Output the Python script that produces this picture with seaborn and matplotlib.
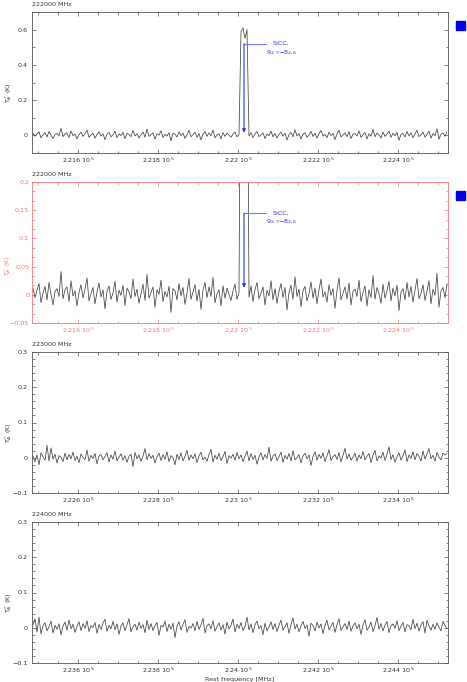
import numpy as np
import matplotlib
matplotlib.use("Agg")
import matplotlib.pyplot as plt
import seaborn as sns
from matplotlib.ticker import MultipleLocator, AutoMinorLocator, FuncFormatter
from matplotlib.patches import Rectangle

sns.set_style("ticks")
plt.rcParams['font.family'] = ['DejaVu Sans']

# ---------------- data ----------------
CHAN_WIDTH = 5.0  # MHz
panel_titles = ["222000 MHz", "222000 MHz", "223000 MHz", "224000 MHz"]
panel_start = [221485.0, 221485.0, 222485.0, 223485.0]
panel_end = [222525.0, 222525.0, 223525.0, 224525.0]
panel_ylim = [(-0.1, 0.7), (-0.05, 0.2), (-0.1, 0.3), (-0.1, 0.3)]
panel_ymajor = [0.2, 0.05, 0.1, 0.1]
panel_yminor = [2, 3, 5, 5]

# spectrum at 222000 MHz (mK)
spec_222 = [
    12, -5, 8, 20, -14, 3, 15, -9, 22, 1, -18, 6, 11, -3, 41, -7, 9, 14, -12, 25,
    -2, 7, -20, 4, 18, -6, 10, 30, -11, 2, 13, -16, 5, 21, -4, 9, -25, 6, 16, -8,
    3, 24, -13, 8, -1, 17, -19, 12, 5, -7, 28, -3, 10, -15, 2, 19, -10, 36, -6, 4,
    14, -22, 9, 1, 26, -12, 6, -4, 15, -31, 11, 7, -9, 20, -2, 13, -17, 3, 29, -8,
    5, 18, -11, 10, -26, 8, 22, -5, 14, -3, 31, -14, 2, 9, -20, 16, -6, 12, 1, -10,
    7, 19, -8, 4,
    590, 610, 550, 600,
    -4, 16, -12, 9, 22, -7, 3, 14, -18, 8, -2, 25, -9, 11, -15, 6, 20, -5, 13, -27,
    4, 17, -8, 32, -3, 10, -21, 7, 15, -11, 2, 23, -6, 12, -16, 9, 28, -4, 5, -13,
    18, -1, 11, -24, 8, 30, -9, 3, 14, -7, 21, -18, 6, 10, -3, 26, -12, 4, 16, -20,
    9, -5, 34, -8, 13, 2, -15, 19, -6, 7, 24, -11, 12, -2, 17, -28, 5, 11, -9, 22,
    -4, 15, -13, 8, 29, -7, 3, 18, -10, 6, 25, -16, 10, -1, 38, -22, 7, 13, -5, 20,
]
# spectrum at 223000 MHz (mK)
spec_223 = [
    5, -12, 8, -20, 14, 3, -7, 35, -9, 28, -4, 10, -15, 6, 2, -11, 13, -6, 9, -3,
    16, -8, 4, -14, 11, 1, -5, 22, -10, 7, -2, 12, -17, 5, 9, -6, 3, 14, -12, 8,
    -4, 19, -9, 2, 11, -7, 6, -13, 4, 10, -25, 15, -3, 8, -10, 5, 26, -6, 12, -2,
    7, -15, 3, 13, -8, 9, -4, 17, -11, 6, 1, -20, 10, -5, 14, -9, 4, 21, -7, 8,
    -3, 11, -14, 5, 16, -6, 2, -10, 9, 24, -12, 7, -4, 13, -8, 3, 18, -16, 6, -1,
    10, -7, 15, -3, 8, -11, 4, 19, -9, 12, -5, 7, -18, 2, 14, -6, 9, -2, 30, -10,
    5, 11, -8, 3, 16, -13, 7, -4, 12, -9, 20, -6, 1, 9, -15, 6, 13, -3, 8, -22,
    4, 17, -7, 10, -2, 14, -11, 5, 23, -8, 3, 9, -5, 15, -12, 6, 27, -4, 11, -7,
    2, 13, -10, 8, -3, 18, -6, 4, 12, -14, 7, 21, -9, 5, -1, 16, -8, 10, 31, -5,
    9, -13, 3, 14, -7, 6, 22, -11, 8, -2, 17, -6, 12, 4, -9, 19, -4, 11, 26, -3,
    7, -10, 15, 2, -6, 13, 8, 12,
]
# spectrum at 224000 MHz (mK)
spec_224 = [
    8, 25, -12, 30, -18, 6, 14, -9, 3, 19, -15, 7, -4, 11, -20, 5, 16, -7, 22, -3,
    10, -13, 4, 17, -8, 12, -2, 20, -11, 6, 1, 15, -16, 9, -5, 13, 24, -10, 7, -3,
    18, -6, 11, -19, 4, 14, -9, 8, 26, -12, 3, 10, -7, 16, -2, 9, -14, 21, -5, 12,
    -8, 6, 15, -22, 7, 2, 19, -11, 10, -4, 13, -28, 5, 17, -6, 9, 23, -13, 4, -1,
    12, -9, 18, -5, 8, 27, -15, 6, 11, -3, 20, -10, 3, 14, -7, 9, -18, 16, -4, 7,
    25, -12, 10, -2, 15, -8, 4, 30, -6, 11, -14, 8, 19, -3, 6, -20, 13, -9, 2, 17,
    -5, 12, -11, 7, 22, -7, 3, 14, -16, 9, 28, -4, 10, -12, 5, 18, -2, 8, -24, 13,
    6, -9, 16, -1, 11, -17, 7, 21, -6, 4, 15, -13, 9, 26, -8, 3, 12, -5, 19, -10,
    5, 14, -3, 10, -19, 8, 23, -7, 2, 16, -11, 6, 29, -4, 12, -9, 7, 18, -14, 5,
    11, -2, 20, -8, 4, 15, -12, 9, 6, -6, 24, -3, 13, -10, 8, 17, -15, 21, 5, -7,
    10, -4, 14, 2, -9, 18, 6, -3,
]
panel_spec = [spec_222, spec_222, spec_223, spec_224]

# line identification
line_freq = 222015.0
line_name = "SiCC,"
line_qn = "9$_{2,7}$\u22128$_{2,6}$"
line_top = [0.52, 0.145]   # top of the marker in panels 1 and 2
line_tip = [0.015, 0.0125]

# ---------------- figure ----------------
W, H = 467, 682
fig = plt.figure(figsize=(W / 100, H / 100), dpi=100)

panel_px = [(12, 153), (182, 323), (352, 493), (522, 663)]
label_right_px = [14, 13, 14, 14]
left_px, right_px = 32, 448
FS = 4.6
red = "#f07878"

def xfmt(v, pos):
    return f"{v/1e5:g} 10$^5$"

def yfmt(v, pos):
    s = f"{v:g}"
    if abs(v) < 1e-9:
        s = "0"
    return s.replace("-", "\u2212")

for i in range(4):
    top, bot = panel_px[i]
    ax = fig.add_axes([left_px / W, 1 - bot / H, (right_px - left_px) / W, (bot - top) / H])
    spec = np.array(panel_spec[i], dtype=float) / 1000.0
    freq = panel_start[i] + CHAN_WIDTH * (np.arange(len(spec)) + 0.5)
    sns.lineplot(x=freq, y=spec, ax=ax, color="#444444", lw=0.55, estimator=None)
    ax.set_xlim(panel_start[i], panel_end[i])
    ax.set_ylim(*panel_ylim[i])
    ax.xaxis.set_major_locator(MultipleLocator(200))
    ax.xaxis.set_minor_locator(MultipleLocator(50))
    ax.yaxis.set_major_locator(MultipleLocator(panel_ymajor[i]))
    ax.yaxis.set_minor_locator(AutoMinorLocator(panel_yminor[i]))
    ax.xaxis.set_major_formatter(FuncFormatter(xfmt))
    ax.yaxis.set_major_formatter(FuncFormatter(yfmt))
    col = red if i == 1 else "#555555"
    lcol = red if i == 1 else "#333333"
    ax.tick_params(which="both", direction="in", top=True, right=True,
                   color=col, labelcolor=lcol, labelsize=FS, width=0.5, pad=3)
    ax.tick_params(axis="x", which="both", pad=2)
    if i == 1:
        ax.tick_params(axis="y", which="both", pad=2)
    ax.tick_params(which="major", length=3)
    ax.tick_params(which="minor", length=1.8)
    for sp in ax.spines.values():
        sp.set_color(col)
        sp.set_linewidth(0.6)
        sp.set_visible(True)
    ax.set_ylabel("T$_A^*$ (K)", fontsize=FS, color=lcol)
    ax.yaxis.set_label_coords((label_right_px[i] - left_px) / (right_px - left_px),
                              0.41 if i == 1 else 0.43)
    ax.set_xlabel("")
    fig.text(left_px / W, 1 - (top - 8) / H, panel_titles[i], fontsize=FS,
             color="#333333", ha="left", va="center")

    if i < 2:
        yt, ytip = line_top[i], line_tip[i]
        ax.annotate("", xy=(line_freq, ytip), xytext=(line_freq, yt),
                    arrowprops=dict(arrowstyle="-|>", color="#2233ff", lw=0.8,
                                    mutation_scale=5, shrinkA=0, shrinkB=0))
        ax.plot([line_freq, line_freq + 55], [yt, yt], color="#7777ff", lw=0.8)
        yr = panel_ylim[i][1] - panel_ylim[i][0]
        ax.text(line_freq + 72, yt, line_name, fontsize=FS, color="#2233ff",
                ha="left", va="center")
        ax.text(line_freq + 55, yt - 0.065 * yr, line_qn, fontsize=FS,
                color="#2233ff", ha="left", va="center")
        sq_top = top + 9
        fig.patches.append(Rectangle((456 / W, 1 - (sq_top + 9) / H), 9 / W, 9 / H,
                                     transform=fig.transFigure, color="#0000ee",
                                     figure=fig))

fig.text((left_px + right_px) / 2 / W, 1 - 681.5 / H, "Rest frequency [MHz]",
         fontsize=FS, color="#333333", ha="center", va="bottom")

fig.savefig("out.png", dpi=100)
